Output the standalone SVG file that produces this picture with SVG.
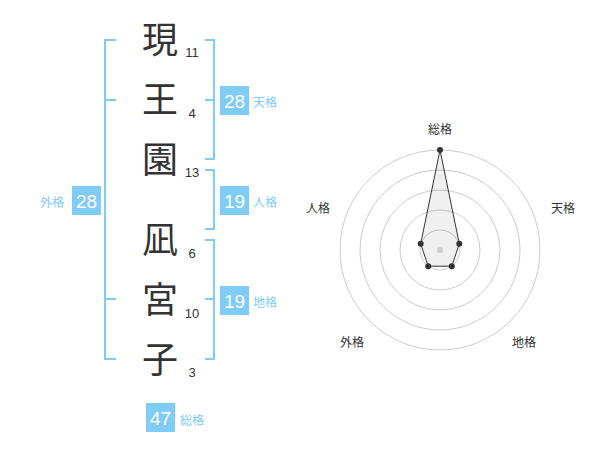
<svg xmlns="http://www.w3.org/2000/svg" width="600" height="470" viewBox="0 0 600 470">
<style>
.k{font-family:"Noto Sans CJK JP","Noto Sans CJK SC",sans-serif;font-size:36px;fill:#333;text-anchor:middle}
.n{font-family:"Liberation Sans",Arial,sans-serif;font-size:13px;fill:#333;text-anchor:middle}
.br{fill:none;stroke:#80ccf8;stroke-width:2}
.bx{fill:#80ccf8}
.bt{font-family:"Liberation Sans",Arial,sans-serif;font-size:19px;fill:#fff;text-anchor:middle}
.bl{font-family:"Noto Sans CJK JP","Noto Sans CJK SC",sans-serif;font-size:12px;fill:#80ccf8}
.ring{fill:none;stroke:#ccc;stroke-width:1}
.rl{font-family:"Noto Sans CJK JP","Noto Sans CJK SC",sans-serif;font-size:12px;fill:#333;text-anchor:middle}
</style>
<rect width="600" height="470" fill="#fff"/>
<g id="chars">
<g id="c1"><text class="k" x="160" y="53">現</text><text class="n" x="192" y="57">11</text></g>
<g id="c2"><text class="k" x="160" y="113">王</text><text class="n" x="192" y="118">4</text></g>
<g id="c3"><text class="k" x="160" y="173">園</text><text class="n" x="192" y="177">13</text></g>
<g id="c4"><text class="k" x="160" y="253">凪</text><text class="n" x="192" y="258">6</text></g>
<g id="c5"><text class="k" x="160" y="313">宮</text><text class="n" x="192" y="318">10</text></g>
<g id="c6"><text class="k" x="160" y="373">子</text><text class="n" x="192" y="377">3</text></g>
</g>
<g id="connectors">
<path class="br" d="M116,40H105V359H116M105,100H116M105,299H116"/>
<path class="br" d="M205,40H214V159H205M214,100H205"/>
<path class="br" d="M205,170H214V229H205"/>
<path class="br" d="M205,240H214V359H205M214,299H205"/>
</g>
<g id="tenkaku"><rect class="bx" x="220" y="86" width="29" height="29"/><text class="bt" x="234.5" y="107.5">28</text><text class="bl" x="253" y="107">天格</text></g>
<g id="jinkaku"><rect class="bx" x="220" y="186" width="29" height="29"/><text class="bt" x="234.5" y="207.5">19</text><text class="bl" x="253" y="207">人格</text></g>
<g id="chikaku"><rect class="bx" x="220" y="286" width="29" height="29"/><text class="bt" x="234.5" y="307.5">19</text><text class="bl" x="253" y="307">地格</text></g>
<g id="gaikaku"><rect class="bx" x="72" y="186" width="29" height="29"/><text class="bt" x="86.5" y="207.5">28</text><text class="bl" x="40" y="207">外格</text></g>
<g id="soukaku"><rect class="bx" x="146" y="403" width="29" height="29"/><text class="bt" x="160.5" y="424.5">47</text><text class="bl" x="180" y="425">総格</text></g>
<g id="radar">
<circle class="ring" cx="440" cy="250" r="20"/>
<circle class="ring" cx="440" cy="250" r="40"/>
<circle class="ring" cx="440" cy="250" r="60"/>
<circle class="ring" cx="440" cy="250" r="80"/>
<circle class="ring" cx="440" cy="250" r="100"/>
<polygon points="440,150 459.3,243.8 451.8,266.2 428.2,266.2 420.7,243.8" fill="#000" fill-opacity="0.06" stroke="#333" stroke-width="1"/>
<circle cx="440" cy="250" r="3" fill="#ccc"/>
<g fill="#333">
<circle cx="440" cy="150" r="3"/><circle cx="459.3" cy="243.8" r="3"/><circle cx="451.8" cy="266.2" r="3"/><circle cx="428.2" cy="266.2" r="3"/><circle cx="420.7" cy="243.8" r="3"/>
</g>
<text class="rl" x="440" y="134">総格</text>
<text class="rl" x="563" y="213">天格</text>
<text class="rl" x="524" y="347">地格</text>
<text class="rl" x="352" y="347">外格</text>
<text class="rl" x="318" y="213">人格</text>
</g>
</svg>
